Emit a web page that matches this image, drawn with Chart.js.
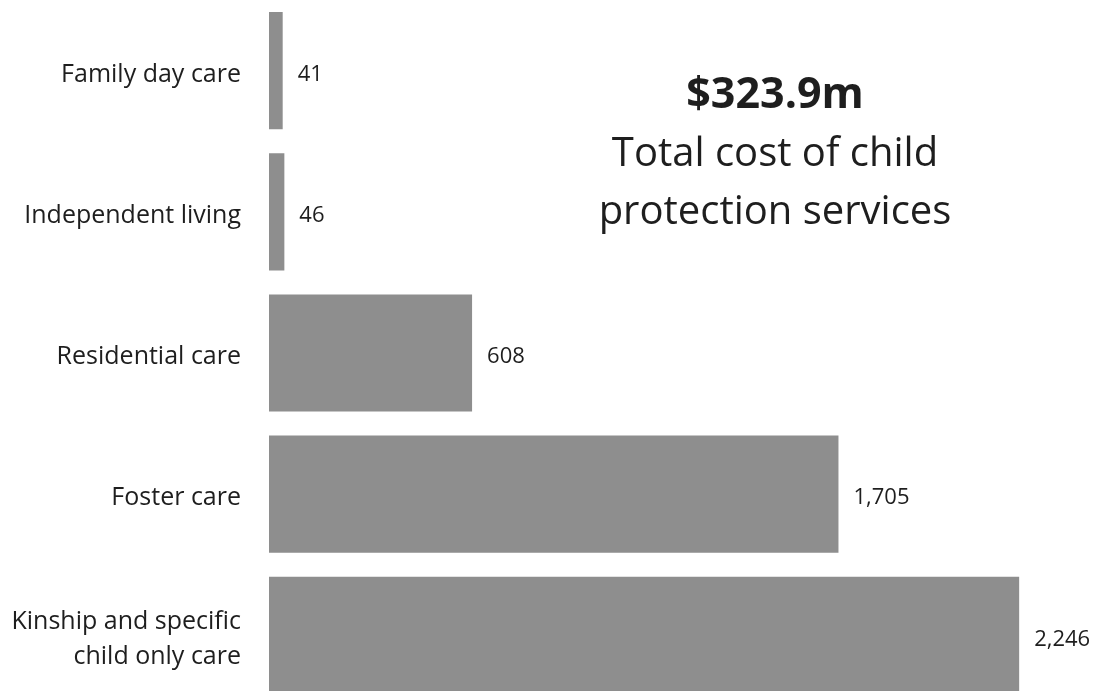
<!DOCTYPE html>
<html>
<head>
<meta charset="utf-8">
<script src="https://cdn.jsdelivr.net/npm/chart.js@4/dist/chart.umd.min.js"></script>
<style>
  html, body { margin: 0; padding: 0; background: #fff; overflow: hidden; }
  #wrap { position: relative; width: 1104px; height: 706px; }
  #total {
    position: absolute; left: 525px; top: 63px; width: 500px;
    text-align: center; font-family: "Open Sans", sans-serif; color: #1e1e1e;
    font-size: 40px; line-height: 58px;
  }
  #total b { font-size: 43px; }
</style>
</head>
<body>
<div id="wrap">
  <canvas id="costs" width="1104" height="706"></canvas>
  <div id="total"><b>$323.9m</b><br>Total cost of child<br>protection services</div>
</div>
<script>
const placements = [
  "Family day care",
  "Independent living",
  "Residential care",
  "Foster care",
  ["Kinship and specific", "child only care"]
]
const children = [41, 46, 608, 1705, 2246]

const fontFamily = '"Open Sans", sans-serif'

// writes the number just past the end of each bar
const valueLabels = {
  id: "valueLabels",
  afterDatasetsDraw(chart) {
    const ctx = chart.ctx
    const meta = chart.getDatasetMeta(0)
    ctx.save()
    ctx.font = "22px " + fontFamily
    ctx.fillStyle = "#1e1e1e"
    ctx.textAlign = "left"
    ctx.textBaseline = "middle"
    meta.data.forEach((bar, i) => {
      ctx.fillText(children[i].toLocaleString("en-US"), bar.x + 15, bar.y + 4)
    })
    ctx.restore()
  }
}

const costsChart = new Chart(document.getElementById("costs"), {
  type: "bar",
  data: {
    labels: placements,
    datasets: [{
      data: children,
      backgroundColor: "#8e8e8e",
      barPercentage: 0.83,
      categoryPercentage: 1
    }]
  },
  options: {
    indexAxis: "y",
    responsive: false,
    animation: false,
    layout: { padding: 0 },
    plugins: { legend: { display: false }, tooltip: { enabled: false } },
    scales: {
      x: { display: false, min: 0, max: 2500 },
      y: {
        grid: { display: false, drawTicks: false },
        border: { display: false },
        ticks: {
          padding: 28,
          labelOffset: 4,
          color: "#1e1e1e",
          font: { family: fontFamily, size: 25, lineHeight: 1.4 }
        },
        afterFit(scale) {
          scale.width = 269
          // no extra room above/below for the tick labels
          scale.paddingTop = 0
          scale.paddingBottom = 0
        }
      }
    }
  },
  plugins: [valueLabels]
})
</script>
</body>
</html>
